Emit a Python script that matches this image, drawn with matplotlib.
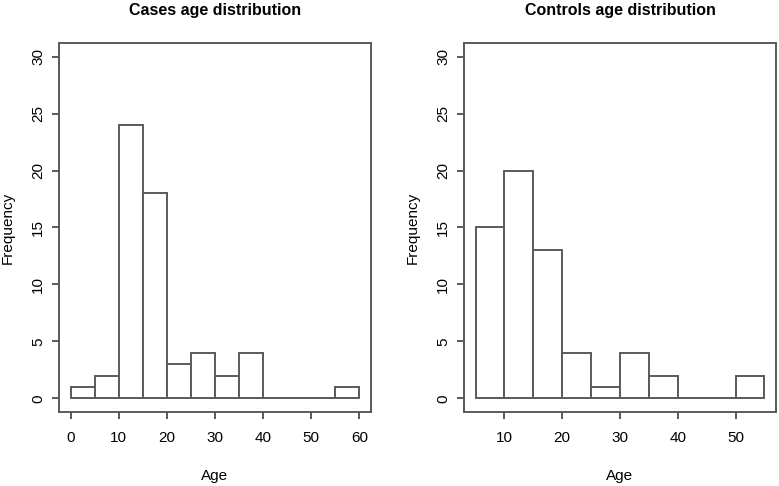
import numpy as np
import matplotlib
matplotlib.use("Agg")
import matplotlib.pyplot as plt

plt.rcParams['font.family'] = ['Liberation Sans', 'DejaVu Sans']

# histogram data
cases_edges = [0, 5, 10, 15, 20, 25, 30, 35, 40, 45, 50, 55, 60]
cases_counts = [1, 2, 24, 18, 3, 4, 2, 4, 0, 0, 0, 1]
cases_xticks = [0, 10, 20, 30, 40, 50, 60]

controls_edges = [5, 10, 15, 20, 25, 30, 35, 40, 45, 50, 55]
controls_counts = [15, 20, 13, 4, 1, 4, 2, 0, 0, 2]
controls_xticks = [10, 20, 30, 40, 50]

yticks = [0, 5, 10, 15, 20, 25, 30]

LC = '#5a5a5a'
LW = 1.4

fig = plt.figure(figsize=(7.79, 4.86), dpi=100)
ax1 = fig.add_axes([0.0757, 0.1523, 0.4006, 0.7593])
ax2 = fig.add_axes([0.5956, 0.1523, 0.4006, 0.7593])


def draw_hist(ax, edges, counts, xticks, title):
    edges = np.array(edges)
    ax.bar(edges[:-1], counts, width=np.diff(edges), align='edge',
           facecolor='white', edgecolor=LC, linewidth=LW)
    lo, hi = edges[0], edges[-1]
    pad = (hi - lo) * 0.04
    ax.set_xlim(lo - pad, hi + pad)
    ax.set_ylim(-1.2, 31.2)
    ax.set_xticks(xticks)
    ax.set_yticks(yticks)
    ax.set_yticklabels([str(v) for v in yticks], rotation=90, va='center')
    for s in ax.spines.values():
        s.set_color(LC)
        s.set_linewidth(LW)
    ax.tick_params(colors=LC, labelcolor='black', labelsize=11,
                   width=LW, length=5)
    ax.tick_params(axis='x', pad=9)
    ax.tick_params(axis='y', pad=5)
    ax.set_title(title, fontsize=11.5, fontweight='bold', pad=20)
    ax.set_xlabel('Age', fontsize=11, labelpad=17)
    ax.set_ylabel('Frequency', fontsize=11, va='center')
    ax.yaxis.set_label_coords(-0.165, 0.5)


draw_hist(ax1, cases_edges, cases_counts, cases_xticks, 'Cases age distribution')
draw_hist(ax2, controls_edges, controls_counts, controls_xticks, 'Controls age distribution')

fig.savefig('out.png', dpi=100)
